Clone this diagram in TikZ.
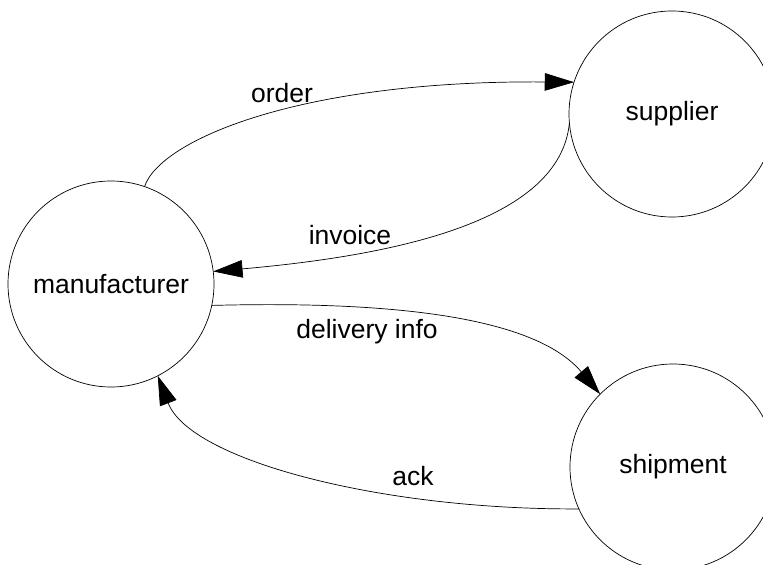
\documentclass[tikz,border=0pt]{standalone}
\usepackage{fontspec}
\setmainfont{Liberation Sans}
\usetikzlibrary{arrows.meta}
\pgfdeclarelayer{bg}
\pgfsetlayers{bg,main}
\tikzset{
  proc/.style={draw, circle, line width=0.6pt, minimum size=6.18cm,
    inner sep=0pt, outer sep=0pt, font=\fontsize{22.6}{26}\selectfont},
  lbl/.style={inner sep=0pt, font=\fontsize{22.6}{26}\selectfont},
  flow/.style={line width=0.6pt, -{Triangle[length=25pt, width=15pt]}}
}
\begin{document}
\begin{tikzpicture}[x=0.03cm, y=-0.03cm]
        \useasboundingbox (0,0) rectangle (763,564);
        \node (man) [proc] at (111,284) {manufacturer};
        \node (sup) [proc] at (672,114) {supplier};
        \node (ship) [proc] at (673,467) {shipment};
        \node (lorder) [lbl] at (282,93) {order};
        \node (linv) [lbl] at (350,235) {invoice};
        \node (ldel) [lbl] at (367,332) {delivery info};
        \node (lack) [lbl] at (413,476) {ack};
        \begin{pgfonlayer}{bg}
                \draw [flow] (man.71) .. controls (160,140) and (300,80) .. (sup.162);
                \draw [flow] (sup.185) .. controls (560,220) and (400,255) .. (man.7);
                \draw [flow] (man.-12) .. controls (420,300) and (540,323) .. (ship.135);
                \draw [flow] (ship.204) .. controls (380,510) and (190,460) .. (man.-63);
        \end{pgfonlayer}
\end{tikzpicture}
\end{document}
